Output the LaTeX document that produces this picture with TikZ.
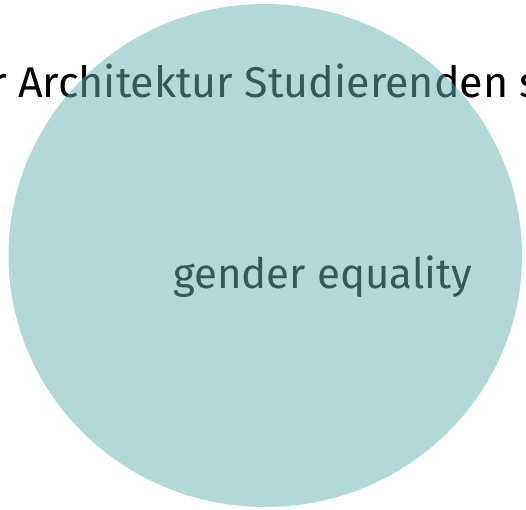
\documentclass[tikz,border=0pt]{standalone}
\usepackage{fontspec}
\setmainfont{Fira Sans}
\definecolor{tealmid}{HTML}{66B2B2}

\begin{document}
\begin{tikzpicture}[x=1pt,y=1pt]
\useasboundingbox (0,0) rectangle (526,509);
\clip (0,0) rectangle (526,509);
\node[inner sep=0, anchor=base, font=\fontsize{43}{48}\selectfont] (heading) at (265,411) {r Architektur Studierenden s};
\node[inner sep=0, anchor=base, font=\fontsize{42}{47}\selectfont] (equality) at (322.5,221) {gender equality};
\fill[tealmid, fill opacity=0.5] (265.25,253.5) ellipse [x radius=256.75, y radius=251.5];
\end{tikzpicture}
\end{document}
